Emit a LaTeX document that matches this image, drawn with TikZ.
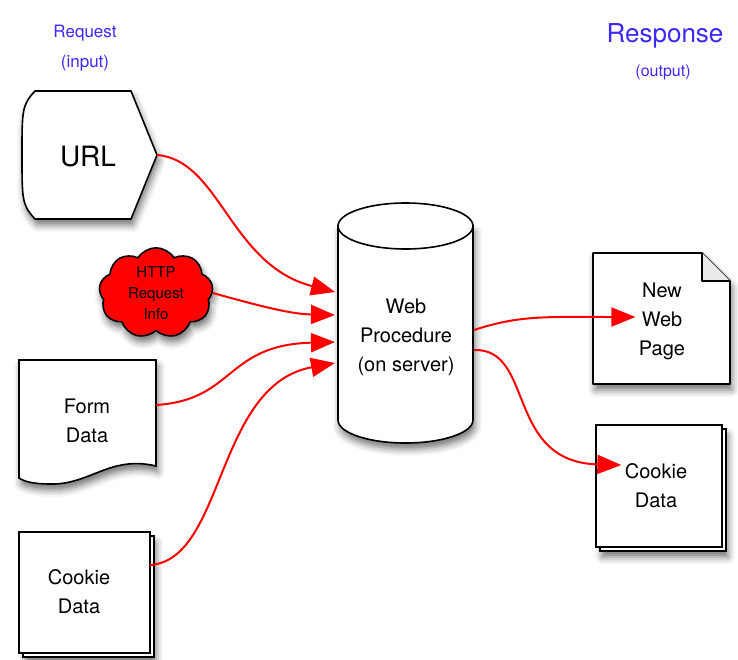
\documentclass[tikz,border=0pt]{standalone}
\usepackage{fontspec}
\setmainfont{TeX Gyre Heros}
\usetikzlibrary{shapes.symbols,shadows,shadows.blur,arrows.meta}
\definecolor{hdrblue}{RGB}{60,40,250}
\begin{document}
\begin{tikzpicture}[x=1pt,y=-1pt,
  box/.style={draw=black,line width=1.6pt,fill=white},
  shad/.style={blur shadow={shadow xshift=2pt,shadow yshift=-6pt,shadow blur radius=7pt,shadow opacity=55}},
  lbl/.style={font=\fontsize{20}{29}\selectfont,align=center,text=black},
  hdr/.style={font=\fontsize{17}{30}\selectfont,align=center,text=hdrblue},
  conn/.style={draw=red,line width=2pt,-{Triangle[length=24pt,width=19pt]}}]
\useasboundingbox (0,0) rectangle (738,659);

% headers
\node[hdr] (req) at (85,48) {Request\\(input)};
\node[font=\fontsize{26}{30}\selectfont,text=hdrblue] (resp) at (665,36) {Response};
\node[font=\fontsize{16}{20}\selectfont,text=hdrblue] (out) at (663,72) {(output)};

% URL display shape
\draw[box,shad,line join=round] (35,91) -- (131,91) -- (157,155) -- (131,219) -- (35,219)
  .. controls (22,205) and (22,200) .. (22,155) .. controls (22,110) and (22,105) .. (35,91) -- cycle;
\node[font=\fontsize{28}{30}\selectfont] (url) at (88,157) {URL};
\coordinate (urlp) at (157,155);

% HTTP cloud
\node[cloud,cloud puffs=9,cloud puff arc=115,aspect=1.4,draw=black,line width=1.6pt,fill=red,
  minimum width=114pt,minimum height=84pt,inner sep=0pt,shad,
  font=\fontsize{15}{21}\selectfont,align=center] (http) at (156,293) {HTTP\\Request\\Info};

% Form data document
\draw[box,shad] (19,360) -- (156,360) -- (156,466)
  .. controls (110,455) and (90,485) .. (50,484) .. controls (35,484) and (25,482) .. (19,478) -- cycle;
\node[lbl] (form) at (87,421) {Form\\Data};

% Cookie data (left) stacked
\draw[box,shad] (23,536) rectangle (154,657);
\draw[box] (19,532) rectangle (150,653);
\node[lbl] (cookl) at (79,592) {Cookie\\Data};

% Cylinder
\draw[box,shad] (338,226) -- (338,420) arc[start angle=180,end angle=0,x radius=67.5,y radius=23] -- (473,226) -- cycle;
\draw[box] (405.5,226) ellipse[x radius=67.5,y radius=23];
\node[lbl] (web) at (406,337) {Web\\Procedure\\(on server)};
\coordinate (in1) at (335,292);
\coordinate (in2) at (335,315);
\coordinate (in3) at (335,342);
\coordinate (in4) at (335,363);
\coordinate (o1) at (474,330);
\coordinate (o2) at (474,350);

% New web page (folded corner)
\draw[box,shad,line join=round] (593,253) -- (702,253) -- (730,281) -- (730,384) -- (593,384) -- cycle;
\draw[line width=1.6pt,fill=white!92!black,line join=round] (702,253) -- (702,281) -- (730,281);
\node[lbl] (page) at (662,321) {New\\Web\\Page};

% Cookie data (right) stacked
\draw[box,shad] (600,429) rectangle (726,551);
\draw[box] (596,425) rectangle (722,547);
\node[lbl] (cookr) at (656,486) {Cookie\\Data};

% connectors
\draw[conn] (urlp) .. controls (220,160) and (230,265) .. (in1);
\draw[conn] (http.east) .. controls (260,306) and (290,314) .. (in2);
\draw[conn] (156,405) .. controls (235,400) and (225,345) .. (in3);
\draw[conn] (150,565) .. controls (225,560) and (215,385) .. (in4);
\draw[conn] (o1) .. controls (520,315) and (545,317) .. (page.west |- 0,317);
\draw[conn] (o2) .. controls (535,348) and (505,462) .. (cookr.west |- 0,465);
\end{tikzpicture}
\end{document}
